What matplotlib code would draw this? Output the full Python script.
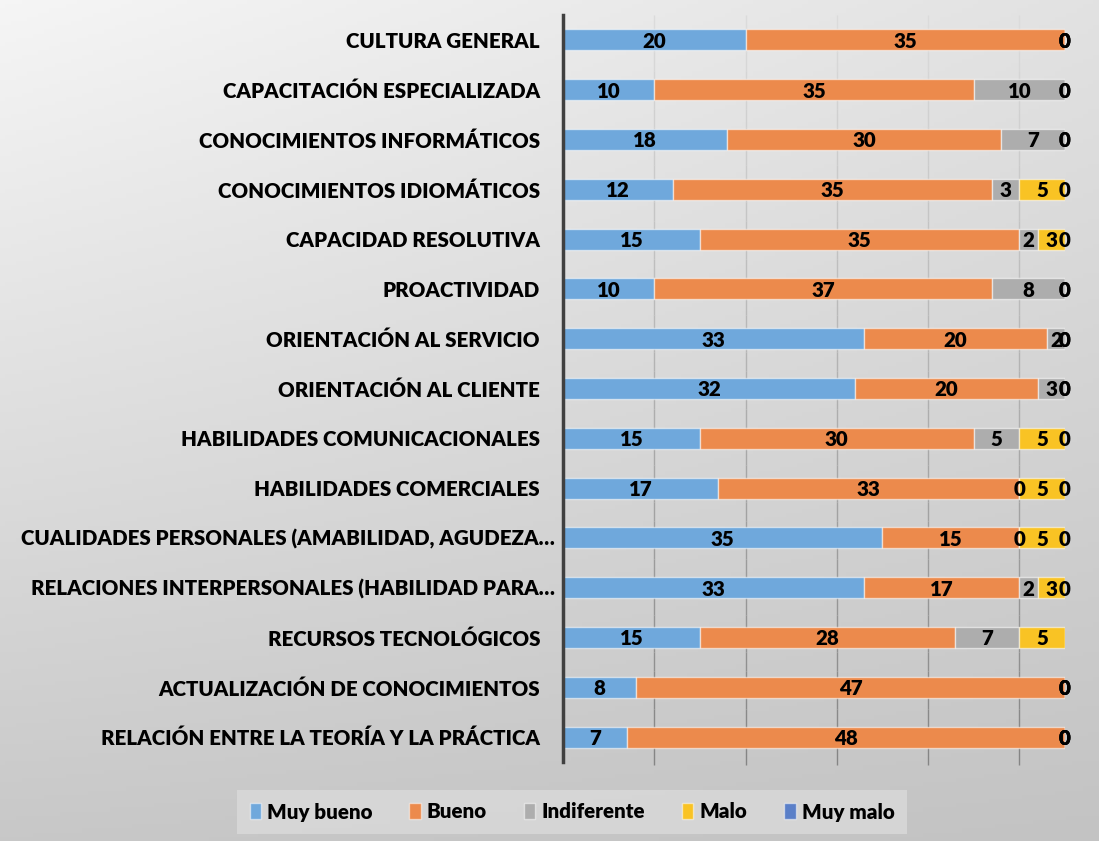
import numpy as np
import matplotlib
matplotlib.use("Agg")
import matplotlib.pyplot as plt
from matplotlib.patches import Patch
from matplotlib.collections import LineCollection

plt.rcParams['font.family'] = ['Lato', 'DejaVu Sans']

categories = [
    "CULTURA GENERAL",
    "CAPACITACIÓN ESPECIALIZADA",
    "CONOCIMIENTOS INFORMÁTICOS",
    "CONOCIMIENTOS IDIOMÁTICOS",
    "CAPACIDAD RESOLUTIVA",
    "PROACTIVIDAD",
    "ORIENTACIÓN AL SERVICIO",
    "ORIENTACIÓN AL CLIENTE",
    "HABILIDADES COMUNICACIONALES",
    "HABILIDADES COMERCIALES",
    "CUALIDADES PERSONALES (AMABILIDAD, AGUDEZA…",
    "RELACIONES INTERPERSONALES (HABILIDAD PARA…",
    "RECURSOS TECNOLÓGICOS",
    "ACTUALIZACIÓN DE CONOCIMIENTOS",
    "RELACIÓN ENTRE LA TEORÍA Y LA PRÁCTICA",
]
muy_bueno   = [20, 10, 18, 12, 15, 10, 33, 32, 15, 17, 35, 33, 15, 8, 7]
bueno       = [35, 35, 30, 35, 35, 37, 20, 20, 30, 33, 15, 17, 28, 47, 48]
indiferente = [0, 10, 7, 3, 2, 8, 2, 3, 5, 0, 0, 2, 7, 0, 0]
malo        = [0, 0, 0, 5, 3, 0, 0, 0, 5, 5, 5, 3, 5, 0, 0]
muy_malo    = [0, 0, 0, 0, 0, 0, 0, 0, 0, 0, 0, 0, np.nan, 0, 0]

series_names = ["Muy bueno", "Bueno", "Indiferente", "Malo", "Muy malo"]
series = [muy_bueno, bueno, indiferente, malo, muy_malo]
colors = ["#6fa8dc", "#ec8a4c", "#adadad", "#f9c324", "#5a7fc8"]

W, H = 1099, 841
fig = plt.figure(figsize=(W / 100, H / 100), dpi=100)

# background gradient
bg = fig.add_axes([0, 0, 1, 1], zorder=-10)
yy, xx = np.mgrid[0:1:200j, 0:1:200j]
tl, tr, bl, br = 0.962, 0.886, 0.784, 0.765
val = (tl * (1 - xx) * (1 - yy) + tr * xx * (1 - yy) + bl * (1 - xx) * yy + br * xx * yy)
bg.imshow(np.dstack([val, val, val]), extent=[0, 1, 0, 1], aspect='auto', origin='upper')
bg.set_axis_off()

ax_w = 502
ax = fig.add_axes([563 / W, 1 - 762 / H, ax_w / W, (762 - 15) / H])
ax.patch.set_alpha(0)
n = len(categories)
y = np.arange(n)
left = np.zeros(n)
FS = 14.8
WT = 'heavy'
for name, vals, c in zip(series_names, series, colors):
    v = np.array(vals, dtype=float)
    ax.barh(y, np.nan_to_num(v), left=left, height=0.42, color=c, label=name,
            edgecolor=(1, 1, 1, 0.55), linewidth=1.0, zorder=3)
    for i in range(n):
        if np.isnan(v[i]):
            continue
        ax.text(left[i] + v[i] / 2, y[i] + 0.03, f"{int(v[i])}", ha='center', va='center',
                fontsize=FS, fontweight=WT, color='black', zorder=5, clip_on=False)
    left = left + np.nan_to_num(v)

ax.set_xlim(0, 55)
ax.set_ylim(n - 0.5, -0.5)
ax.set_yticks([])
ax.set_xticks([])
tr_y = ax.get_yaxis_transform()
for i, cat in enumerate(categories):
    gap = 8 if cat.endswith("…") else 23
    ax.text(-gap / ax_w, i + 0.03, cat, transform=tr_y, ha='right', va='center',
            fontsize=FS, fontweight=WT, color='black')
for s in ['top', 'right', 'bottom']:
    ax.spines[s].set_visible(False)
ax.spines['left'].set_color('#404040')
ax.spines['left'].set_linewidth(2.5)
ax.spines['left'].set_zorder(6)

# gridlines with vertical shading
nseg = 40
ys = np.linspace(-0.5, n - 0.5 + 0.06, nseg + 1)
for gx in [10, 20, 30, 40, 50]:
    segs = [[(gx, ys[k]), (gx, ys[k + 1])] for k in range(nseg)]
    t = np.linspace(0, 1, nseg)
    g = 0.86 - 0.34 * t
    lc = LineCollection(segs, colors=[(gg, gg, gg) for gg in g], linewidths=1.0, zorder=1, clip_on=False)
    ax.add_collection(lc)

handles = [Patch(facecolor=c, edgecolor=(1, 1, 1, 0.5), label=nm) for nm, c in zip(series_names, colors)]
leg = fig.legend(handles=handles, loc='center', bbox_to_anchor=(572 / W, 1 - 812 / H), ncol=5,
                 frameon=True, fancybox=False, prop={'weight': WT, 'size': FS},
                 handlelength=0.55, handleheight=0.8, handletextpad=0.3, columnspacing=1.8,
                 borderpad=0.6)
leg.get_frame().set_facecolor('#dadada')
leg.get_frame().set_edgecolor('none')

fig.savefig("out.png", dpi=100)
